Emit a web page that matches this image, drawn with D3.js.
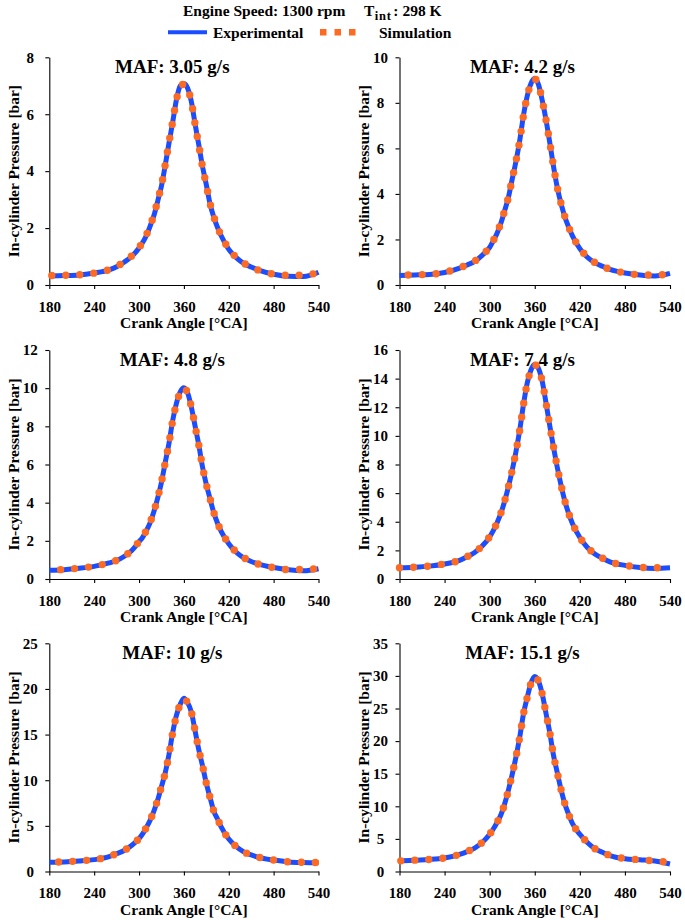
<!DOCTYPE html>
<html>
<head>
<meta charset="utf-8">
<script src="https://cdn.jsdelivr.net/npm/d3@7"></script>
<style>
  html, body { margin: 0; padding: 0; background: #fff; }
  svg { display: block; }
  text { font-family: "Liberation Serif", "Times New Roman", serif; font-weight: bold; fill: #000; }
</style>
</head>
<body>
<svg id="chart" width="685" height="920"></svg>
<script>
// ---------------- DATA ----------------
const angles = [180,200,220,240,260,270,280,290,300,305,310,315,320,325,330,335,340,345,350,355,
                360,365,370,375,380,385,390,395,400,405,410,420,430,440,450,460,480,500,520,540];

const mafTitles = ["MAF: 3.05 g/s", "MAF: 4.2 g/s", "MAF: 4.8 g/s", "MAF: 7.4 g/s", "MAF: 10 g/s", "MAF: 15.1 g/s"];

// Experimental in-cylinder pressure [bar]
const exp305 = [0.32,0.33,0.35,0.42,0.53,0.64,0.80,1.00,1.30,1.50,1.75,2.08,2.45,2.95,3.48,4.20,4.98,5.72,6.51,6.99,
                7.08,6.91,6.44,5.65,4.91,4.15,3.52,2.85,2.38,2.02,1.72,1.25,0.96,0.76,0.63,0.52,0.38,0.31,0.30,0.45];
const exp42  = [0.42,0.44,0.46,0.55,0.74,0.88,1.04,1.30,1.65,1.95,2.28,2.72,3.27,3.85,4.65,5.43,6.34,7.45,8.30,8.85,
                9.08,8.80,8.10,7.25,6.25,5.20,4.28,3.57,3.00,2.55,2.17,1.60,1.22,0.98,0.82,0.69,0.53,0.44,0.40,0.51];
const exp48  = [0.46,0.49,0.56,0.66,0.84,0.97,1.18,1.48,1.95,2.20,2.55,2.97,3.55,4.25,5.07,6.10,7.10,8.30,9.20,9.80,
                10.02,9.75,9.00,8.00,7.00,5.85,4.95,4.20,3.47,2.92,2.48,1.85,1.40,1.11,0.92,0.78,0.60,0.48,0.43,0.54];
const exp74  = [0.78,0.82,0.90,1.05,1.30,1.55,1.85,2.30,2.95,3.40,3.95,4.60,5.45,6.45,7.60,8.90,10.40,12.20,13.70,14.60,
                15.00,14.70,13.80,12.30,10.70,9.20,7.80,6.55,5.45,4.60,3.90,2.90,2.20,1.75,1.45,1.20,0.95,0.80,0.74,0.78];
const exp10  = [1.00,1.05,1.15,1.30,1.62,1.95,2.30,2.85,3.60,4.15,4.85,5.65,6.65,7.85,9.30,10.80,12.80,15.20,17.10,18.30,
                18.97,18.50,17.45,15.40,13.30,11.55,9.65,8.10,6.60,5.75,4.85,3.55,2.72,2.15,1.82,1.55,1.25,1.05,0.98,0.95];
const exp151 = [1.60,1.73,1.84,2.07,2.62,3.05,3.60,4.45,5.70,6.55,7.55,8.70,10.40,12.50,14.90,17.55,20.60,24.20,26.70,28.90,
                29.90,29.20,27.20,24.25,21.30,17.80,15.15,12.55,10.40,8.80,7.40,5.70,4.45,3.50,2.95,2.45,1.97,1.80,1.60,1.15];

// Simulated in-cylinder pressure [bar]
const sim305 = [0.33,0.34,0.36,0.42,0.54,0.65,0.81,1.02,1.31,1.52,1.77,2.10,2.47,2.97,3.50,4.22,5.00,5.74,6.50,6.98,
                7.05,6.90,6.43,5.64,4.90,4.14,3.51,2.86,2.40,2.03,1.73,1.27,0.97,0.77,0.63,0.52,0.38,0.34,0.34,0.45];
const sim42  = [0.43,0.45,0.47,0.56,0.75,0.89,1.05,1.32,1.67,1.96,2.30,2.74,3.28,3.86,4.66,5.44,6.34,7.44,8.30,8.84,
                9.05,8.79,8.10,7.25,6.25,5.21,4.29,3.58,3.01,2.56,2.18,1.61,1.23,0.99,0.82,0.69,0.53,0.45,0.44,0.47];
const sim48  = [0.47,0.50,0.57,0.67,0.85,0.98,1.19,1.49,1.96,2.21,2.56,2.98,3.56,4.26,5.08,6.10,7.10,8.29,9.19,9.78,
                10.00,9.74,9.00,8.00,7.00,5.86,4.96,4.21,3.48,2.93,2.49,1.86,1.41,1.12,0.92,0.78,0.60,0.49,0.50,0.55];
const sim74  = [0.79,0.83,0.91,1.06,1.31,1.56,1.86,2.31,2.96,3.41,3.96,4.61,5.46,6.46,7.61,8.90,10.40,12.18,13.68,14.58,
                14.96,14.68,13.79,12.30,10.71,9.21,7.81,6.56,5.46,4.61,3.91,2.91,2.21,1.76,1.46,1.21,0.96,0.82,0.79,0.80];
const sim10  = [1.01,1.06,1.16,1.31,1.63,1.96,2.31,2.86,3.61,4.16,4.86,5.66,6.66,7.86,9.30,10.80,12.79,15.18,17.08,18.28,
                18.90,18.48,17.44,15.40,13.31,11.56,9.66,8.11,6.61,5.76,4.86,3.56,2.73,2.16,1.82,1.56,1.26,1.06,1.00,0.98];
const sim151 = [1.62,1.74,1.85,2.08,2.63,3.06,3.61,4.46,5.71,6.56,7.56,8.71,10.41,12.51,14.91,17.55,20.59,24.18,26.68,28.88,
                29.85,29.18,27.19,24.25,21.31,17.81,15.16,12.56,10.41,8.81,7.41,5.71,4.46,3.51,2.96,2.46,1.98,1.81,1.62,1.40];

const expSeries = [exp305, exp42, exp48, exp74, exp10, exp151];
const simSeries = [sim305, sim42, sim48, sim74, sim10, sim151];

const yMaxes = [8, 10, 12, 16, 25, 35];
const yStepList = [2, 2, 2, 2, 5, 5];
const xTickValues = [180, 240, 300, 360, 420, 480, 540];

const headerText1 = "Engine Speed: 1300 rpm";
const legendLabels = ["Experimental", "Simulation"];
const xAxisTitle = "Crank Angle [\u00B0CA]";
const yAxisTitle = "In-cylinder Pressure [bar]";

// ---------------- LAYOUT / STYLE ----------------
const layout = [
  {x0: 49.3,  x1: 318.5, y0: 57.3,  y1: 285,   dashOff: 11.5},
  {x0: 399.5, x1: 670,   y0: 57.3,  y1: 285,   dashOff: 5.3},
  {x0: 49.3,  x1: 318.5, y0: 350,   y1: 579,   dashOff: 2.7},
  {x0: 399.5, x1: 670,   y0: 350,   y1: 579,   dashOff: 0},
  {x0: 49.3,  x1: 318.5, y0: 643.3, y1: 871.5, dashOff: 4.7},
  {x0: 399.5, x1: 670,   y0: 643.3, y1: 871.5, dashOff: 12.7}
];
const BLUE = "#1a4dff";
const ORANGE = "#fd6a22";

const svg = d3.select("#chart");

// ---------------- HEADER / LEGEND ----------------
const hdr = svg.append("g");
hdr.append("text").attr("x", 183).attr("y", 15.5).attr("font-size", 15.5).text(headerText1);
const tText = hdr.append("text").attr("x", 364).attr("y", 15.5).attr("font-size", 15.5);
tText.append("tspan").text("T");
tText.append("tspan").attr("font-size", 12.5).attr("dy", 4).attr("dx", 0.5).attr("letter-spacing", 0.8).text("int");
tText.append("tspan").attr("dy", -4).attr("dx", 1.5).text(": 298 K");

hdr.append("line").attr("x1", 168).attr("x2", 207).attr("y1", 32.3).attr("y2", 32.3)
  .attr("stroke", BLUE).attr("stroke-width", 4);
hdr.append("text").attr("x", 213).attr("y", 37.5).attr("font-size", 15.5).text(legendLabels[0]);
hdr.append("line").attr("x1", 320).attr("x2", 356).attr("y1", 32.3).attr("y2", 32.3)
  .attr("stroke", ORANGE).attr("stroke-width", 6.5).attr("stroke-dasharray", "6.5 8");
hdr.append("text").attr("x", 379).attr("y", 37.5).attr("font-size", 15.5).text(legendLabels[1]);

// ---------------- PANELS ----------------
layout.forEach((L, i) => {
  const x = d3.scaleLinear().domain([180, 540]).range([L.x0, L.x1]);
  const y = d3.scaleLinear().domain([0, yMaxes[i]]).range([L.y1, L.y0]);
  const g = svg.append("g");

  const yTicks = d3.range(0, yMaxes[i] + 0.001, yStepList[i]);

  // y axis
  const ya = g.append("g").attr("transform", `translate(${L.x0},0)`)
    .call(d3.axisLeft(y).tickValues(yTicks).tickSize(4).tickSizeOuter(0).tickFormat(d3.format("d")));
  ya.selectAll("text").attr("text-anchor", "middle").attr("x", -19).attr("font-size", 15);
  ya.selectAll("path,line").attr("stroke", "#000").attr("stroke-width", 1.1);

  // x axis
  const xa = g.append("g").attr("transform", `translate(0,${L.y1})`)
    .call(d3.axisBottom(x).tickValues(xTickValues).tickSize(4).tickSizeOuter(0).tickPadding(12));
  xa.selectAll("text").attr("font-size", 15);
  xa.selectAll("path,line").attr("stroke", "#000").attr("stroke-width", 1.1);
  [ya, xa].forEach(a => a.attr("font-family", null).attr("font-size", null));

  // axis titles
  g.append("text").attr("x", (L.x0 + L.x1) / 2).attr("y", L.y1 + 43)
    .attr("text-anchor", "middle").attr("font-size", 15.5).text(xAxisTitle);
  g.append("text")
    .attr("transform", `translate(${L.x0 - 30.5},${(L.y0 + L.y1) / 2}) rotate(-90)`)
    .attr("text-anchor", "middle").attr("font-size", 15.5).text(yAxisTitle);

  // panel title
  g.append("text").attr("x", L.x0 + 123).attr("y", L.y0 + 16)
    .attr("text-anchor", "middle").attr("font-size", 19).text(mafTitles[i]);

  const line = d3.line().x(d => x(d[0])).y(d => y(d[1])).curve(d3.curveMonotoneX);

  g.append("path").datum(angles.map((a, k) => [a, expSeries[i][k]]))
    .attr("d", line).attr("fill", "none").attr("stroke", BLUE)
    .attr("stroke-width", 5).attr("stroke-linejoin", "round");

  g.append("path").datum(angles.map((a, k) => [a, simSeries[i][k]]))
    .attr("d", line).attr("fill", "none").attr("stroke", ORANGE)
    .attr("stroke-width", 7.4).attr("stroke-linecap", "round")
    .attr("stroke-dasharray", "0 14").attr("stroke-dashoffset", L.dashOff);
});
</script>
</body>
</html>
